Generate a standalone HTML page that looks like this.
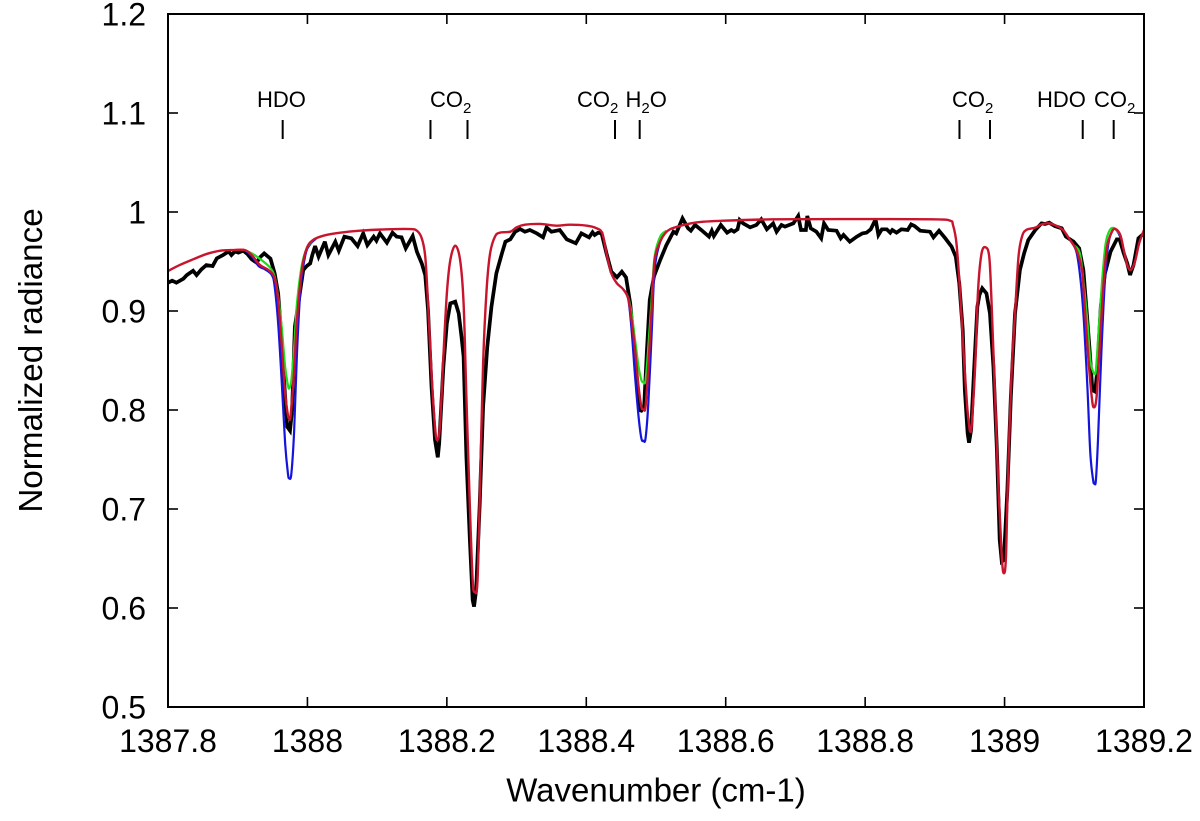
<!DOCTYPE html>
<html>
<head>
<meta charset="utf-8">
<title>Normalized radiance spectrum</title>
<style>
html,body{margin:0;padding:0;background:#fff;}
svg{display:block;}
text{font-family:"Liberation Sans",sans-serif;fill:#000;}
</style>
</head>
<body>
<svg id="chart" xmlns="http://www.w3.org/2000/svg" width="1200" height="821" viewBox="0 0 1200 821"></svg>
<script>
const xTickLabels = ["1387.8","1388","1388.2","1388.4","1388.6","1388.8","1389","1389.2"];
const xTickValues = [1387.8,1388,1388.2,1388.4,1388.6,1388.8,1389,1389.2];
const yTickLabels = ["0.5","0.6","0.7","0.8","0.9","1","1.1","1.2"];
const yTickValues = [0.5,0.6,0.7,0.8,0.9,1,1.1,1.2];
const lineMarkers = [1387.9645,1388.1765,1388.2296,1388.4412,1388.4766,1388.9353,1388.9791,1389.1121,1389.1565];

const observedSeries = [
[1387.8,.9286],[1387.806,.9306],[1387.812,.9286],[1387.822,.9326],[1387.827,.9363],[1387.836,.9407],[1387.841,.9363],[1387.848,.9421],[1387.855,.9464],[1387.864,.9454],
[1387.87,.9532],[1387.879,.9565],[1387.887,.9602],[1387.891,.9565],[1387.896,.9602],[1387.901,.9589],[1387.908,.9609],[1387.914,.9575],[1387.92,.9522],[1387.927,.9488],
[1387.932,.9542],[1387.938,.9582],[1387.947,.9528],[1387.953,.938],[1387.958,.9178],[1387.963,.8707],[1387.968,.8134],[1387.971,.7831],[1387.975,.7791],[1387.978,.7999],
[1387.982,.8842],[1387.987,.9077],[1387.994,.9414],[1387.999,.9454],[1388.004,.9481],[1388.007,.9565],[1388.011,.9656],[1388.016,.9549],[1388.025,.97],[1388.03,.9565],
[1388.04,.97],[1388.045,.9609],[1388.053,.9751],[1388.063,.9734],[1388.072,.9656],[1388.08,.9784],[1388.086,.9666],[1388.095,.9751],[1388.099,.971],[1388.104,.9784],
[1388.114,.969],[1388.122,.9791],[1388.128,.9751],[1388.135,.9744],[1388.141,.9633],[1388.151,.9757],[1388.157,.9599],[1388.164,.9481],[1388.169,.9363],[1388.173,.901],
[1388.178,.8235],[1388.183,.7697],[1388.187,.7522],[1388.189,.7663],[1388.195,.8437],[1388.2,.8875],[1388.205,.9077],[1388.212,.9094],[1388.217,.8976],[1388.221,.874],
[1388.224,.854],[1388.228,.7529],[1388.233,.6687],[1388.237,.6081],[1388.239,.6014],[1388.242,.6182],[1388.247,.7024],[1388.252,.8034],[1388.258,.864],[1388.264,.9044],
[1388.271,.938],[1388.279,.9582],[1388.284,.97],[1388.291,.9724],[1388.298,.9801],[1388.305,.9828],[1388.312,.9801],[1388.319,.9818],[1388.329,.9784],[1388.338,.9744],
[1388.343,.9845],[1388.35,.9801],[1388.362,.9818],[1388.372,.9724],[1388.385,.9684],[1388.393,.9784],[1388.404,.9744],[1388.409,.9795],[1388.412,.9768],[1388.417,.9791],
[1388.422,.9784],[1388.429,.9582],[1388.436,.9397],[1388.444,.934],[1388.451,.9397],[1388.457,.934],[1388.463,.9077],[1388.467,.8774],[1388.472,.8337],[1388.476,.8],
[1388.479,.7993],[1388.483,.8034],[1388.487,.8606],[1388.491,.9111],[1388.497,.9347],[1388.506,.9515],[1388.515,.9667],[1388.525,.9801],[1388.529,.9784],[1388.538,.9936],
[1388.546,.9835],[1388.55,.9811],[1388.556,.9869],[1388.565,.9818],[1388.576,.9751],[1388.58,.9811],[1388.583,.9757],[1388.593,.9869],[1388.602,.9791],[1388.608,.9818],
[1388.612,.9801],[1388.617,.9825],[1388.62,.9919],[1388.625,.9885],[1388.635,.9845],[1388.644,.9869],[1388.651,.9926],[1388.659,.9825],[1388.668,.9885],[1388.673,.9801],
[1388.68,.9869],[1388.685,.9852],[1388.697,.9885],[1388.704,.996],[1388.708,.9818],[1388.715,.9818],[1388.717,.996],[1388.722,.9835],[1388.73,.9801],[1388.737,.9734],
[1388.741,.9885],[1388.747,.9818],[1388.759,.9811],[1388.765,.9734],[1388.769,.9768],[1388.778,.97],[1388.788,.9751],[1388.796,.9784],[1388.802,.9791],[1388.808,.9825],
[1388.815,.9926],[1388.819,.9768],[1388.824,.9825],[1388.831,.9825],[1388.836,.9791],[1388.839,.9818],[1388.845,.9791],[1388.852,.9825],[1388.861,.9818],[1388.866,.9875],
[1388.871,.9858],[1388.879,.9811],[1388.893,.9801],[1388.898,.9744],[1388.906,.9811],[1388.915,.9734],[1388.924,.965],[1388.93,.9549],[1388.935,.928],[1388.94,.8808],
[1388.943,.8202],[1388.947,.7764],[1388.949,.767],[1388.952,.7798],[1388.956,.837],[1388.961,.9044],[1388.964,.9162],[1388.968,.9229],[1388.974,.9178],[1388.979,.8976],
[1388.984,.8438],[1388.989,.7596],[1388.993,.6687],[1388.996,.6468],[1388.999,.6485],[1389.004,.7192],[1389.009,.8135],[1389.015,.8976],[1389.022,.9414],[1389.028,.9582],
[1389.034,.9717],[1389.044,.9818],[1389.053,.9885],[1389.058,.9879],[1389.064,.9892],[1389.072,.9858],[1389.082,.9835],[1389.088,.9751],[1389.099,.97],[1389.107,.9633],
[1389.113,.9414],[1389.118,.8976],[1389.122,.8606],[1389.126,.8202],[1389.13,.8185],[1389.133,.8404],[1389.138,.9044],[1389.144,.938],[1389.152,.9599],[1389.161,.9724],
[1389.165,.9724],[1389.171,.9582],[1389.176,.9481],[1389.18,.9364],[1389.185,.9465],[1389.192,.9734],[1389.2,.9784]
];

const bestFitSeries = [
[1387.8,.9404],[1387.817,.9465],[1387.836,.9522],[1387.855,.9575],[1387.875,.9609],[1387.894,.9616],[1387.91,.9616],[1387.92,.9565],[1387.932,.9464],[1387.944,.9414],
[1387.953,.933],[1387.958,.9111],[1387.963,.8673],[1387.968,.8168],[1387.972,.7949],[1387.974,.7915],[1387.976,.7949],[1387.981,.8404],[1387.985,.8909],[1387.992,.9414],
[1387.999,.9633],[1388.008,.9717],[1388.023,.9761],[1388.047,.9791],[1388.075,.9811],[1388.114,.9825],[1388.147,.9828],[1388.157,.9811],[1388.164,.9734],[1388.169,.9549],
[1388.173,.9077],[1388.178,.837],[1388.183,.7831],[1388.186,.7697],[1388.19,.7831],[1388.195,.8538],[1388.2,.9178],[1388.205,.9515],[1388.212,.966],[1388.219,.9515],
[1388.224,.9077],[1388.228,.8135],[1388.233,.7024],[1388.237,.6283],[1388.24,.6165],[1388.244,.6283],[1388.248,.736],[1388.252,.8471],[1388.257,.9212],[1388.262,.9582],
[1388.269,.9751],[1388.276,.9791],[1388.291,.9801],[1388.3,.9845],[1388.312,.9872],[1388.334,.9879],[1388.357,.9862],[1388.377,.9872],[1388.401,.9862],[1388.415,.9835],
[1388.423,.9784],[1388.429,.9582],[1388.436,.938],[1388.444,.9279],[1388.453,.9219],[1388.46,.9128],[1388.465,.8909],[1388.47,.8606],[1388.475,.8236],[1388.479,.8034],
[1388.482,.8007],[1388.485,.8034],[1388.489,.8438],[1388.494,.9044],[1388.498,.9515],[1388.506,.97],[1388.513,.9784],[1388.52,.9825],[1388.534,.9858],[1388.558,.9895],
[1388.597,.9912],[1388.668,.9926],[1388.764,.9929],[1388.898,.9926],[1388.922,.9912],[1388.926,.9869],[1388.931,.9683],[1388.936,.9212],[1388.941,.8606],[1388.946,.8067],
[1388.949,.7848],[1388.951,.7781],[1388.953,.7865],[1388.958,.8471],[1388.962,.9212],[1388.967,.9582],[1388.973,.9643],[1388.978,.9549],[1388.981,.9145],[1388.986,.8202],
[1388.991,.7259],[1388.996,.6519],[1388.999,.635],[1389.002,.6519],[1389.005,.736],[1389.01,.837],[1389.015,.8976],[1389.02,.9549],[1389.025,.9751],[1389.031,.9818],
[1389.044,.9842],[1389.053,.9875],[1389.064,.9885],[1389.075,.9858],[1389.084,.9818],[1389.094,.9717],[1389.103,.9616],[1389.111,.9414],[1389.115,.9044],[1389.12,.8539],
[1389.125,.8135],[1389.128,.8027],[1389.132,.8135],[1389.137,.8707],[1389.142,.9279],[1389.147,.965],[1389.154,.9801],[1389.159,.9828],[1389.166,.9768],[1389.171,.9616],
[1389.176,.9465],[1389.181,.9414],[1389.187,.9498],[1389.193,.9683],[1389.2,.9818]
];

const highHdoBand1 = [[1387.91,.9616],[1387.92,.9555],[1387.93,.9454],[1387.939,.9421],[1387.949,.9363],[1387.953,.9246],[1387.958,.8875],[1387.963,.8303],[1387.968,.7663],[1387.972,.736],[1387.974,.731],[1387.977,.736],[1387.981,.7798],[1387.985,.8572],[1387.99,.9212],[1387.997,.9565],[1388.004,.9675],[1388.013,.9735]];
const highHdoBand2 = [[1388.453,.9219],[1388.46,.9128],[1388.465,.8808],[1388.47,.8337],[1388.475,.7933],[1388.479,.7714],[1388.482,.769],[1388.485,.7714],[1388.489,.8067],[1388.494,.8808],[1388.498,.9414],[1388.506,.97],[1388.515,.9811]];
const highHdoBand3 = [[1389.094,.9717],[1389.103,.9599],[1389.109,.9313],[1389.114,.8875],[1389.119,.8202],[1389.123,.7562],[1389.127,.7293],[1389.129,.7259],[1389.131,.7293],[1389.134,.7697],[1389.139,.8606],[1389.144,.9313],[1389.149,.9683],[1389.156,.9825],[1389.162,.9801],[1389.168,.9717]];

const lowHdoBand1 = [[1387.91,.9616],[1387.922,.9575],[1387.934,.9515],[1387.946,.9441],[1387.953,.9347],[1387.958,.9145],[1387.963,.8842],[1387.968,.8437],[1387.972,.8252],[1387.974,.8219],[1387.977,.8303],[1387.981,.8639],[1387.985,.9077],[1387.992,.9464],[1387.999,.9633],[1388.008,.9717]];
const lowHdoBand2 = [[1388.453,.9219],[1388.46,.9138],[1388.465,.8976],[1388.47,.8707],[1388.475,.8438],[1388.479,.8303],[1388.482,.8279],[1388.485,.8303],[1388.489,.864],[1388.494,.9145],[1388.498,.9549],[1388.506,.9751],[1388.515,.9811]];
const lowHdoBand3 = [[1389.099,.9667],[1389.108,.9582],[1389.114,.9246],[1389.119,.8875],[1389.123,.8505],[1389.127,.8387],[1389.129,.837],[1389.131,.8404],[1389.135,.8808],[1389.14,.9313],[1389.145,.9683],[1389.151,.9818],[1389.158,.9835],[1389.166,.9768]];

const svg = document.getElementById('chart');
const NS = 'http://www.w3.org/2000/svg';
const plot = {left:168, right:1144, top:14, bottom:707};
const xDomain = [1387.8, 1389.2];
const yDomain = [0.5, 1.2];
function xScale(v){ return plot.left + (v - xDomain[0]) / (xDomain[1] - xDomain[0]) * (plot.right - plot.left); }
function yScale(v){ return plot.bottom - (v - yDomain[0]) / (yDomain[1] - yDomain[0]) * (plot.bottom - plot.top); }

function addLine(x1,y1,x2,y2,w,name){
  const el = document.createElementNS(NS,'line');
  el.setAttribute('x1',x1); el.setAttribute('y1',y1);
  el.setAttribute('x2',x2); el.setAttribute('y2',y2);
  el.setAttribute('stroke','#000'); el.setAttribute('stroke-width',w);
  
  
  svg.appendChild(el);
}
function addText(str,x,y,size,anchor,name,transform){
  const el = document.createElementNS(NS,'text');
  el.setAttribute('x',x); el.setAttribute('y',y);
  el.setAttribute('font-size',size); el.setAttribute('text-anchor',anchor);
  if(transform){ el.setAttribute('transform',transform); }
  el.textContent = str;
  
  
  svg.appendChild(el);
  return el;
}
function straightPath(pts){
  return 'M' + pts.map(p => p[0].toFixed(2)+' '+p[1].toFixed(2)).join('L');
}
function smoothPath(pts){
  let d = 'M' + pts[0][0].toFixed(2) + ' ' + pts[0][1].toFixed(2);
  for(let i = 0; i < pts.length - 1; i++){
    const p0 = pts[Math.max(i-1,0)], p1 = pts[i], p2 = pts[i+1], p3 = pts[Math.min(i+2,pts.length-1)];
    const c1x = p1[0] + (p2[0]-p0[0])/6, c1y = p1[1] + (p2[1]-p0[1])/6;
    const c2x = p2[0] - (p3[0]-p1[0])/6, c2y = p2[1] - (p3[1]-p1[1])/6;
    d += 'C' + c1x.toFixed(2)+' '+c1y.toFixed(2)+' '+c2x.toFixed(2)+' '+c2y.toFixed(2)+' '+p2[0].toFixed(2)+' '+p2[1].toFixed(2);
  }
  return d;
}
function addCurve(points,color,width,name,smooth){
  const el = document.createElementNS(NS,'path');
  const pts = points.map(p => [xScale(p[0]), yScale(p[1])]);
  el.setAttribute('d', smooth ? smoothPath(pts) : straightPath(pts));
  el.setAttribute('fill','none');
  el.setAttribute('stroke',color);
  el.setAttribute('stroke-width',width);
  el.setAttribute('stroke-linejoin','miter');
  el.setAttribute('stroke-miterlimit','3');
  
  
  svg.appendChild(el);
}
function addFormula(parts,x,name){
  const el = document.createElementNS(NS,'text');
  el.setAttribute('x',x);
  el.setAttribute('y',107);
  el.setAttribute('font-size',22);
  parts.forEach(function(part){
    const span = document.createElementNS(NS,'tspan');
    span.textContent = part[0];
    if(part[1]){
      span.setAttribute('font-size',15);
      span.setAttribute('dy',6);
    } else if(part[2]){
      span.setAttribute('dy',-6);
    }
    el.appendChild(span);
  });
  
  
  svg.appendChild(el);
}

addCurve(observedSeries,'#000',3.7,'observed-spectrum',false);
addCurve(highHdoBand1,'#1414dc',2.2,'high-hdo-model-band-1',true);
addCurve(highHdoBand2,'#1414dc',2.2,'high-hdo-model-band-2',true);
addCurve(highHdoBand3,'#1414dc',2.2,'high-hdo-model-band-3',true);
addCurve(lowHdoBand1,'#1edc1e',2.2,'low-hdo-model-band-1',true);
addCurve(lowHdoBand2,'#1edc1e',2.2,'low-hdo-model-band-2',true);
addCurve(lowHdoBand3,'#1edc1e',2.2,'low-hdo-model-band-3',true);
addCurve(bestFitSeries,'#c8142d',2.4,'best-fit-model',true);

yTickValues.forEach(function(v,i){
  const y = yScale(v);
  addLine(plot.left,y,plot.left+10,y,1.6,'y-tick-left-'+yTickLabels[i]);
  addLine(plot.right-10,y,plot.right,y,1.6,'y-tick-right-'+yTickLabels[i]);
  addText(yTickLabels[i],146,y+11.5,32,'end','y-tick-label-'+yTickLabels[i]);
});
xTickValues.forEach(function(v,i){
  const x = xScale(v);
  addLine(x,plot.bottom-10,x,plot.bottom,1.6,'x-tick-bottom-'+xTickLabels[i]);
  addLine(x,plot.top,x,plot.top+10,1.6,'x-tick-top-'+xTickLabels[i]);
  addText(xTickLabels[i],x,752,32,'middle','x-tick-label-'+xTickLabels[i]);
});

addLine(plot.left,plot.top,plot.right,plot.top,2,'axis-top');
addLine(plot.left,plot.bottom,plot.right,plot.bottom,2,'axis-bottom');
addLine(plot.left,plot.top-1,plot.left,plot.bottom+1,2,'axis-left');
addLine(plot.right,plot.top-1,plot.right,plot.bottom+1,2,'axis-right');

lineMarkers.forEach(function(v,i){
  addLine(xScale(v),120,xScale(v),139,2,'line-marker-'+(i+1));
});

addText('HDO',257,107,22,'start','hdo-label-1');
addFormula([['CO'],['2',true],],430,'co2-label-1');
addFormula([['CO'],['2',true],],577,'co2-label-2');
addFormula([['H'],['2',true],['O',false,true]],625.5,'h2o-label');
addFormula([['CO'],['2',true],],952,'co2-label-3');
addText('HDO',1037,107,22,'start','hdo-label-2');
addFormula([['CO'],['2',true],],1094,'co2-label-4');

addText('Wavenumber (cm-1)',656,801.5,33,'middle','x-axis-title');
addText('Normalized radiance',0,0,33.2,'middle','y-axis-title','translate(42,360.5) rotate(-90)');
</script>
</body>
</html>
